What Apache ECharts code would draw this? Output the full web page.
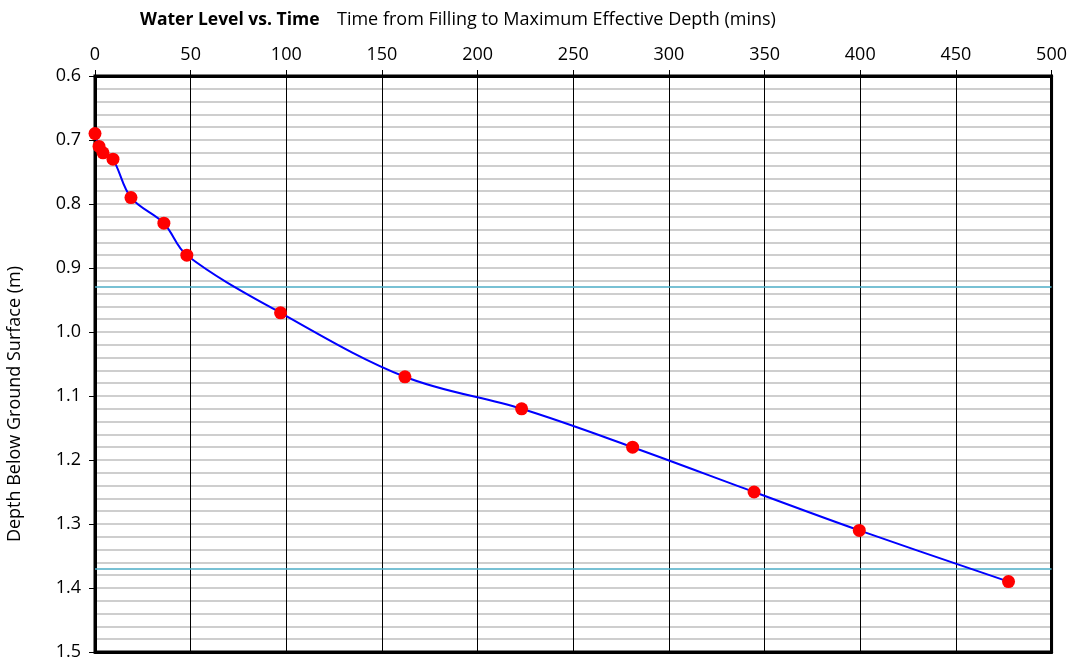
<!DOCTYPE html>
<html>
<head>
<meta charset="utf-8">
<script src="https://cdn.jsdelivr.net/npm/echarts@6/dist/echarts.min.js"></script>
<style>html,body{margin:0;padding:0;background:#fff}#c{width:1070px;height:661px}</style>
</head>
<body>
<div id="c"></div>
<script>
var timeMins = [0, 2.1, 4.2, 9.4, 18.8, 36, 48, 97, 162, 223, 281, 344.5, 399.5, 477.5];
var depthM = [0.69, 0.71, 0.72, 0.73, 0.79, 0.83, 0.88, 0.97, 1.07, 1.12, 1.18, 1.25, 1.31, 1.39];
var refDepths = [0.926, 1.374];
var chartTitle = 'Water Level vs. Time';
var xName = 'Time from Filling to Maximum Effective Depth (mins)';
var yName = 'Depth Below Ground Surface (m)';

var font = '"Open Sans", Calibri, sans-serif';
var chart = echarts.init(document.getElementById('c'));
var pts = timeMins.map(function (t, i) { return [t, depthM[i]]; });
chart.setOption({
  animation: false,
  title: [
    { text: chartTitle, left: 135, top: 6, textStyle: { fontFamily: font, fontSize: 17.5, fontWeight: 'bold', color: '#000' } },
    { text: xName, left: 332, top: 6, textStyle: { fontFamily: font, fontSize: 18, fontWeight: 'normal', color: '#000' } }
  ],
  graphic: [{
    type: 'text', left: 6, top: 266, rotation: Math.PI / 2,
    style: { text: yName, fontFamily: font, fontSize: 18, fill: '#000' }
  }],
  grid: { left: 95, right: 15, top: 76, bottom: 8, show: true, borderColor: '#000', borderWidth: 3, backgroundColor: 'transparent' },
  xAxis: [{
    type: 'value', position: 'top', min: 0, max: 500, interval: 50,
    axisLine: { show: true, lineStyle: { color: '#000', width: 3 } },
    axisTick: { show: true, inside: false, length: 6, lineStyle: { color: '#000' } },
    axisLabel: { fontFamily: font, fontSize: 18, color: '#000', margin: 12 },
    splitLine: { show: true, showMinLine: false, showMaxLine: false, lineStyle: { color: '#000', width: 1 } }
  }, {
    type: 'value', position: 'bottom', min: 0, max: 500, interval: 50,
    axisLine: { show: true, onZero: false, lineStyle: { color: '#000', width: 3 } },
    axisTick: { show: false }, axisLabel: { show: false }, splitLine: { show: false }
  }],
  yAxis: [{
    type: 'value', inverse: true, min: 0.6, max: 1.5, interval: 0.1,
    axisLine: { show: true, lineStyle: { color: '#000', width: 3 } },
    axisTick: { show: true, inside: false, length: 6, lineStyle: { color: '#000' } },
    axisLabel: { fontFamily: font, fontSize: 18, color: '#000', margin: 14, formatter: function (v) { return v.toFixed(1); } },
    splitLine: { show: true, showMinLine: false, showMaxLine: false, lineStyle: { color: '#bfbfbf', width: 1.5 } },
    minorTick: { show: false, splitNumber: 5 },
    minorSplitLine: { show: true, lineStyle: { color: '#bfbfbf', width: 1.5 } }
  }, {
    type: 'value', position: 'right', inverse: true, min: 0.6, max: 1.5, interval: 0.1,
    axisLine: { show: true, onZero: false, lineStyle: { color: '#000', width: 3 } },
    axisTick: { show: false }, axisLabel: { show: false }, splitLine: { show: false }
  }],
  series: [{
    type: 'line', data: pts, smooth: 0.35, xAxisIndex: 0, yAxisIndex: 0,
    symbol: 'circle', symbolSize: 13,
    itemStyle: { color: '#ff0000' },
    lineStyle: { color: '#0000ff', width: 2 },
    z: 5,
    markLine: {
      silent: true, symbol: 'none', label: { show: false },
      lineStyle: { color: '#4bacc6', width: 1.5, type: 'solid' },
      data: refDepths.map(function (d) { return { yAxis: d }; })
    }
  }]
});
</script>
</body>
</html>
